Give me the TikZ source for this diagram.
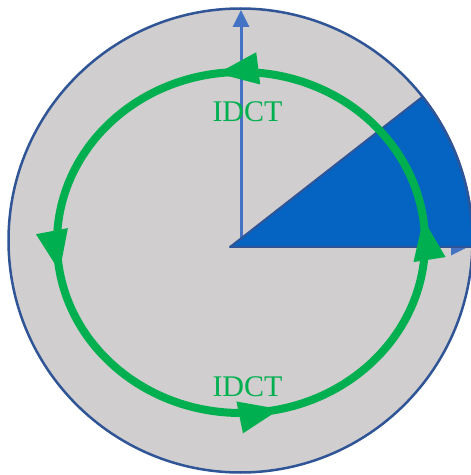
\documentclass[tikz,border=0pt]{standalone}
\usepackage{fontspec}
\setmainfont{Liberation Serif}
\usetikzlibrary{arrows.meta,decorations.markings}
\definecolor{bggray}{HTML}{D0CECE}
\definecolor{rimblue}{HTML}{2F5597}
\definecolor{axisblue}{HTML}{4472C4}
\definecolor{wedgeblue}{HTML}{0563C1}
\definecolor{loopgreen}{HTML}{00B050}
\tikzset{
  axisarrow/.style={draw=axisblue, line width=3pt, -{Triangle[length=17pt,width=16pt]}},
  wedgestyle/.style={fill=wedgeblue, draw=rimblue, line width=2pt, line join=round},
  looparrows/.style={draw=loopgreen, line width=8pt,
    postaction={decorate},
    decoration={markings,
      mark=at position 0.022 with {\arrow{Triangle[length=42pt,width=30pt]}},
      mark=at position 0.272 with {\arrow{Triangle[length=42pt,width=30pt]}},
      mark=at position 0.527 with {\arrow{Triangle[length=42pt,width=30pt]}},
      mark=at position 0.786 with {\arrow{Triangle[length=42pt,width=30pt]}}}},
  label/.style={text=loopgreen, font=\fontsize{30pt}{32pt}\selectfont, inner sep=0pt}
}
\begin{document}
\begin{tikzpicture}[x=1pt,y=1pt]
\useasboundingbox (0,0) rectangle (471,475);
\coordinate (c) at (240.5,234.5);
\coordinate (v) at (230,228);
\coordinate (vt) at (241,235);
\coordinate (top) at (241,465);
\coordinate (rt) at (468,228);
\fill[bggray] (c) circle[radius=232];
\draw[axisarrow] (vt) -- (top);
\draw[axisarrow] (v) -- (rt);
\draw[wedgestyle] (v) -- ([shift={(c)}]38.3:232) arc[start angle=38.3, end angle=-1.6, radius=232] -- cycle;
\draw[rimblue, line width=2.5pt] (c) circle[radius=232];
\draw[looparrows] (241,232.5) ellipse[x radius=184, y radius=170.5];
\node[label] (t1) at (247.5,363) {IDCT};
\node[label] (t2) at (247.5,88.5) {IDCT};
\end{tikzpicture}
\end{document}
